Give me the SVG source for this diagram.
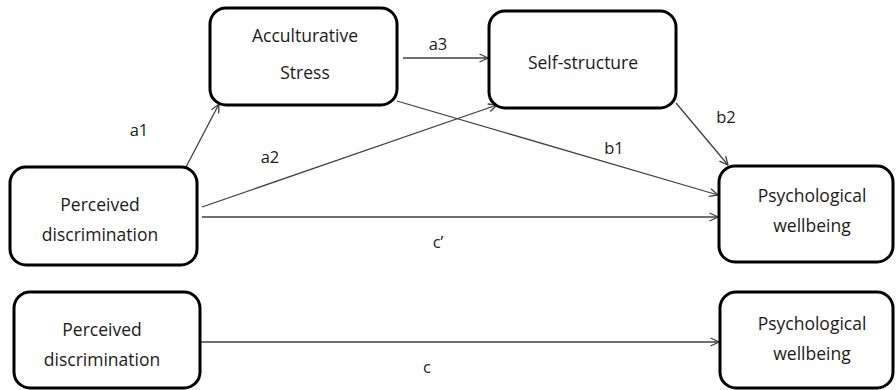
<svg xmlns="http://www.w3.org/2000/svg" width="896" height="390" viewBox="0 0 896 390">
  <style>
    .box { fill: #ffffff; stroke: #000000; stroke-width: 3; }
    .node-text { font-family: "Open Sans", "Liberation Sans", sans-serif; font-size: 17.5px; fill: #1a1a1a; text-anchor: middle; }
    .edge-label { font-family: "Open Sans", "Liberation Sans", sans-serif; font-size: 16.5px; fill: #1a1a1a; text-anchor: middle; }
    .edge { fill: none; stroke: #404040; stroke-width: 1.3; marker-end: url(#arrow); }
  </style>
  <defs>
    <marker id="arrow" viewBox="0 0 10 10" refX="9.5" refY="5" markerWidth="10" markerHeight="10" markerUnits="userSpaceOnUse" orient="auto">
      <path d="M1,1 L9.5,5 L1,9" fill="none" stroke="#404040" stroke-width="1.3"/>
    </marker>
  </defs>

  <rect width="896" height="390" fill="#ffffff"/>

  <!-- connectors -->
  <g id="connectors">
    <line class="edge" x1="186" y1="167" x2="219" y2="104"/>
    <line class="edge" x1="403" y1="58" x2="488" y2="58"/>
    <line class="edge" x1="202" y1="207" x2="497" y2="105"/>
    <line class="edge" x1="397" y1="101" x2="718" y2="195"/>
    <line class="edge" x1="202" y1="217" x2="718" y2="217"/>
    <line class="edge" x1="676" y1="103" x2="728" y2="165"/>
    <line class="edge" x1="200" y1="342" x2="719" y2="342"/>

    <text class="edge-label" x="139" y="136">a1</text>
    <text class="edge-label" x="270" y="163">a2</text>
    <text class="edge-label" x="438" y="50">a3</text>
    <text class="edge-label" x="614" y="154">b1</text>
    <text class="edge-label" x="726" y="123">b2</text>
    <text class="edge-label" x="438" y="248">c’</text>
    <text class="edge-label" x="427" y="373">c</text>
  </g>

  <!-- mediation model nodes -->
  <g id="acculturative-stress">
    <rect class="box" x="210" y="8" width="187" height="97" rx="16"/>
    <text class="node-text" x="305" y="42">Acculturative</text>
    <text class="node-text" x="305" y="79">Stress</text>
  </g>

  <g id="self-structure">
    <rect class="box" x="489" y="11" width="187" height="97" rx="16"/>
    <text class="node-text" x="583" y="69">Self-structure</text>
  </g>

  <g id="perceived-discrimination">
    <rect class="box" x="10" y="167" width="187" height="98" rx="16"/>
    <text class="node-text" x="100" y="211">Perceived</text>
    <text class="node-text" x="100" y="241">discrimination</text>
  </g>

  <g id="psychological-wellbeing">
    <rect class="box" x="719" y="166" width="174" height="96" rx="16"/>
    <text class="node-text" x="812" y="202">Psychological</text>
    <text class="node-text" x="812" y="232">wellbeing</text>
  </g>

  <!-- total effect model nodes -->
  <g id="perceived-discrimination-total">
    <rect class="box" x="14" y="292" width="186" height="96" rx="16"/>
    <text class="node-text" x="102" y="336">Perceived</text>
    <text class="node-text" x="102" y="366">discrimination</text>
  </g>

  <g id="psychological-wellbeing-total">
    <rect class="box" x="720" y="292" width="173" height="96" rx="16"/>
    <text class="node-text" x="812" y="330">Psychological</text>
    <text class="node-text" x="812" y="360">wellbeing</text>
  </g>
</svg>
